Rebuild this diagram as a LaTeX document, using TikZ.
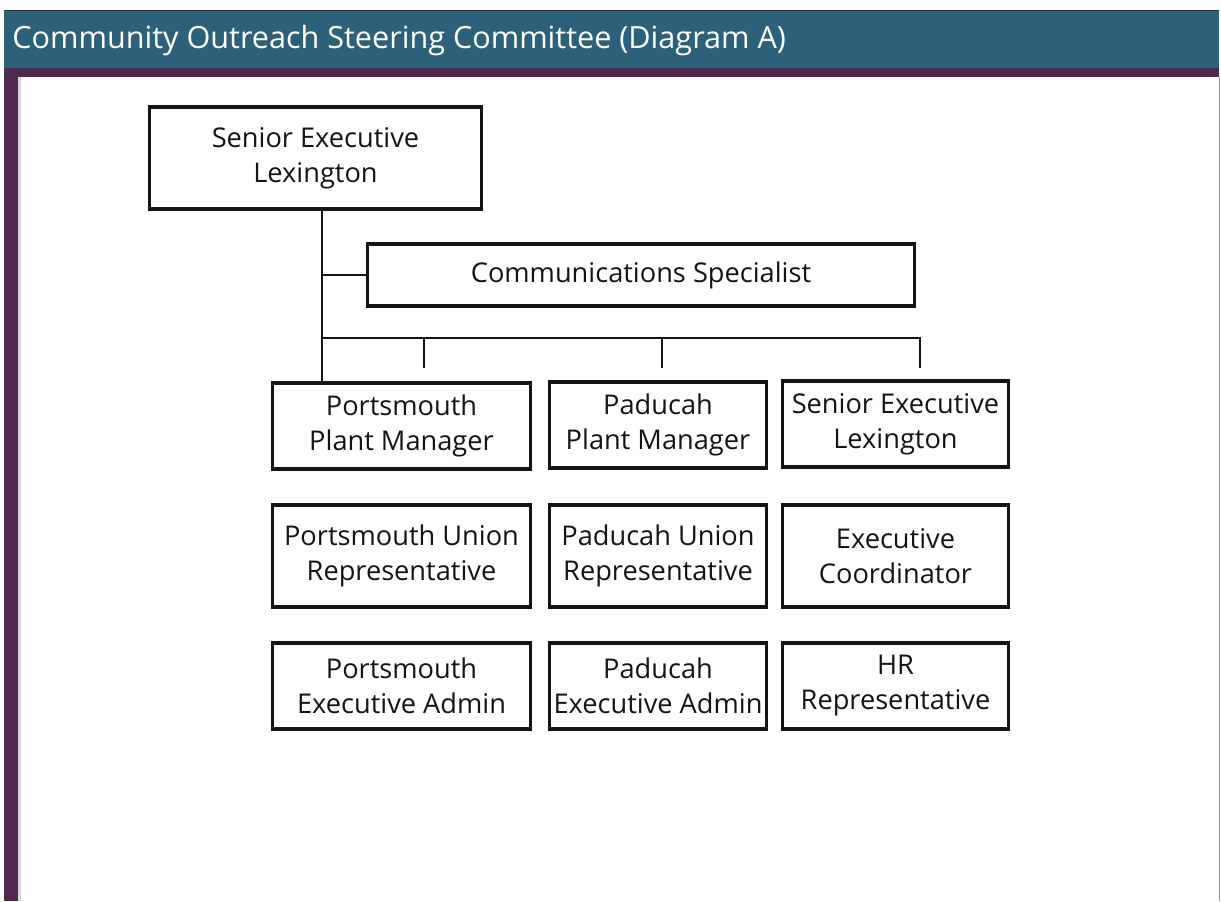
\documentclass[tikz,border=0pt]{standalone}
\usepackage{fontspec}
\setmainfont{Open Sans}
\usetikzlibrary{positioning,calc}
\definecolor{headteal}{HTML}{2D6079}
\definecolor{plum}{HTML}{4F2A4F}
\definecolor{ink}{HTML}{141414}
\definecolor{edge}{HTML}{9A9A9A}
\tikzset{
  box/.style={draw=ink, line width=1.6pt, fill=white, align=center,
    inner sep=2pt, text=ink, font=\fontsize{13.6pt}{17.5pt}\selectfont},
  pbox/.style={box, minimum width=129pt, minimum height=43pt},
  dbox/.style={box, minimum width=108.5pt, minimum height=43pt},
  sbox/.style={box, minimum width=113pt, minimum height=43pt},
  link/.style={draw=ink, line width=1pt},
  title/.style={font=\fontsize{15.3pt}{18pt}\selectfont, text=white, anchor=base west, inner sep=0pt},
}

\begin{document}
\begin{tikzpicture}[x=0.5pt, y=-0.5pt]
    \useasboundingbox (0,0) rectangle (1221,901);
    % frame
    \fill[headteal] (4,10) rectangle (1219,68);
    \draw[headteal!60!black, line width=0.5pt] (4,10) -- (1219,10);
    \fill[plum] (4,68) rectangle (1219,77);
    \fill[plum] (4,77) rectangle (18,901);
    \fill[edge!40] (18,77) rectangle (21,901);
    \draw[edge, line width=0.5pt] (1219,77) -- (1219,901);
    \node[title] (head) at (12,48) {Community Outreach Steering Committee (Diagram A)};
    % boxes
    \node[box, minimum width=166pt, minimum height=51pt] (sel) at (315.5,158) {Senior Executive\\Lexington};
    \node[box, minimum width=273.5pt, minimum height=31pt] (comm) at (641,275) {Communications Specialist};
    \node[pbox] (ppm) at (401.5,426) {Portsmouth\\Plant Manager};
    \node[dbox] (dpm) at (658,425) {Paducah\\Plant Manager};
    \node[sbox] (sel2) at (895.5,424) {Senior Executive\\Lexington};
    \node[pbox, minimum height=51pt] (pur) at (401.5,556) {Portsmouth Union\\Representative};
    \node[dbox, minimum height=51pt] (dur) at (658,556) {Paducah Union\\Representative};
    \node[sbox, minimum height=51pt] (ec) at (895.5,556) {Executive\\Coordinator};
    \node[pbox] (pea) at (401.5,686) {Portsmouth\\Executive Admin};
    \node[dbox] (dea) at (658,686) {Paducah\\Executive Admin};
    \node[sbox] (hr) at (895.5,686) {HR\\Representative};
    % connectors
    \coordinate (bus) at (322,338);
    \coordinate (busend) at (920,338);
    \coordinate (s1) at (424,368);
    \coordinate (s2) at (662,368);
    \coordinate (s3) at (920,368);
    \draw[link] (sel.south -| bus) -- (ppm.north -| bus);
    \draw[link] (comm.west -| bus) -- (comm.west);
    \draw[link] (bus) -- (busend) -- (s3);
    \draw[link] (s1 |- bus) -- (s1);
    \draw[link] (s2 |- bus) -- (s2);
  \end{tikzpicture}
\end{document}
